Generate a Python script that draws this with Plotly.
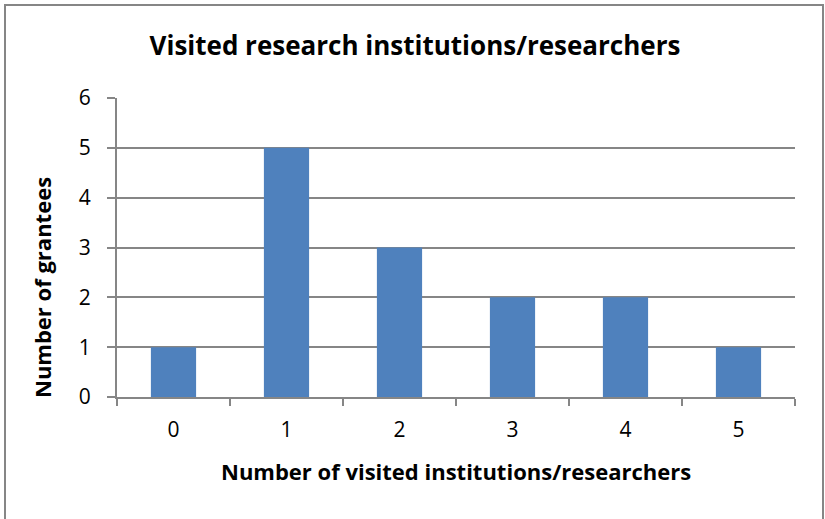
import plotly.graph_objects as go

categories = ["0", "1", "2", "3", "4", "5"]
grantees = [1, 5, 3, 2, 2, 1]
y_ticks = [0, 1, 2, 3, 4, 5, 6]

title_text = "Visited research institutions/researchers"
x_title = "Number of visited institutions/researchers"
y_title = "Number of grantees"

FONT = "Open Sans"
GRAY = "#868686"

fig = go.Figure(go.Bar(x=categories, y=grantees, marker_color="#4F81BD",
                       marker_line_width=0, width=0.4))

L, R, T, B = 117, 30, 98, 122
W, H = 825, 519
pw, ph = W - L - R, H - T - B

fig.update_layout(
    width=W, height=H,
    margin=dict(l=L, r=R, t=T, b=B),
    paper_bgcolor="white", plot_bgcolor="white",
    showlegend=False,
    font=dict(family=FONT, color="black"),
    title=dict(text="<b>" + title_text + "</b>", x=415 / W, xref="container", xanchor="center",
               y=1 - 46 / H, yref="container", yanchor="middle",
               font=dict(size=26, family=FONT, color="black")),
)
fig.update_xaxes(type="category", showline=True, linecolor=GRAY, linewidth=2,
                 ticks="outside", tickson="boundaries", ticklen=7, tickcolor=GRAY, tickwidth=2,
                 tickfont=dict(size=21, family=FONT), showgrid=False,
                 ticklabelstandoff=13)
fig.update_yaxes(range=[0, 6], tickvals=y_ticks, showline=True, linecolor=GRAY, linewidth=2,
                 ticks="outside", ticklen=8, tickcolor=GRAY, tickwidth=2,
                 showgrid=True, gridcolor=GRAY, gridwidth=2, zeroline=False,
                 tickfont=dict(size=21, family=FONT), ticklabelstandoff=12)

# outer chart border (bottom edge lies just outside the visible area)
fig.add_shape(type="rect", xref="paper", yref="paper",
              x0=(5 - L) / pw, x1=(823 - L) / pw,
              y0=(H - B - 530) / ph, y1=(H - B - 5) / ph,
              line=dict(color=GRAY, width=2), fillcolor="rgba(0,0,0,0)", layer="below")

fig.add_annotation(text="<b>" + x_title + "</b>", xref="paper", yref="paper",
                   x=(456 - L) / pw, y=(H - B - 471) / ph, showarrow=False,
                   xanchor="center", yanchor="middle", font=dict(size=22, family=FONT))
fig.add_annotation(text="<b>" + y_title + "</b>", xref="paper", yref="paper",
                   x=(42 - L) / pw, y=(H - B - 288) / ph, showarrow=False, textangle=-90,
                   xanchor="center", yanchor="middle", font=dict(size=22, family=FONT))

fig.write_html("out.html", config={"displayModeBar": False},
               post_script="document.body.style.margin='0';")
